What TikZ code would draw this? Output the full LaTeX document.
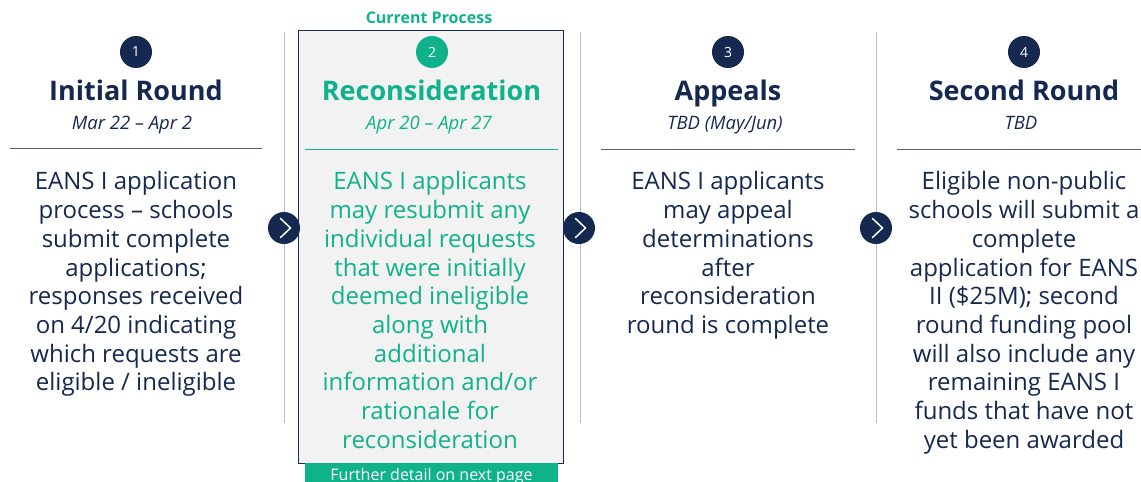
\documentclass[tikz,border=0pt]{standalone}
\usepackage{fontspec}
\setmainfont{Open Sans}
\usetikzlibrary{calc}
\definecolor{navy}{RGB}{20,40,80}
\definecolor{teal}{RGB}{16,178,140}
\definecolor{boxgray}{RGB}{242,242,242}
\definecolor{sepgray}{RGB}{190,190,190}
\definecolor{rulegray}{RGB}{90,100,120}
\begin{document}
\begin{tikzpicture}[x=1pt,y=-1pt,
  numcirc/.style={circle,fill=#1,minimum size=32pt,inner sep=0pt,text=white,font=\fontsize{14}{14}\selectfont},
  arrowcirc/.style={circle,fill=navy,minimum size=32pt,inner sep=0pt},
  title/.style={font=\fontsize{27}{30}\selectfont\bfseries,text=#1,inner sep=0pt,anchor=base},
  datetxt/.style={font=\fontsize{18.5}{20}\selectfont\itshape,text=#1,inner sep=0pt,anchor=base},
  body/.style={font=\fontsize{24}{28.7}\selectfont,text=#1,align=center,inner sep=0pt,anchor=north},
  sep/.style={draw=sepgray,line width=1pt},
  hrule/.style={draw=#1,line width=1pt}]
\useasboundingbox (0,0) rectangle (1141,482);
% separators
\draw[sep] (284,32) -- (284,423);
\draw[sep] (580,32) -- (580,423);
\draw[sep] (876,32) -- (876,423);
% current box
\node[draw=navy,fill=boxgray,line width=0.8pt,minimum width=265pt,minimum height=433pt,inner sep=0pt,anchor=north west] (box) at (298,30) {};
\node[font=\fontsize{16}{16}\selectfont\bfseries,text=teal,inner sep=0pt,anchor=base] (cur) at (429,23.5) {Current Process};
\node[fill=teal,minimum width=253pt,minimum height=20pt,inner sep=0pt,anchor=north west] (bar) at (305,463) {};
\node[text=white,font=\fontsize{16}{16}\selectfont,inner sep=0pt,anchor=base] (bartxt) at (431.5,480) {Further detail on next page};
% column 1
\node[numcirc=navy] (n1) at (136,52) {1};
\node[title=navy] (t1) at (136,100.5) {Initial Round};
\node[datetxt=navy] (d1) at (132,129.5) {Mar 22 – Apr 2};
\draw[hrule=rulegray] (10,148) -- (262,148);
\node[body=navy] (b1) at (136,171.5) {EANS I application\\process – schools\\submit complete\\applications;\\responses received\\on 4/20 indicating\\which requests are\\eligible / ineligible};
% column 2
\node[numcirc=teal] (n2) at (432,52) {2};
\node[title=teal] (t2) at (431.5,100.5) {Reconsideration};
\node[datetxt=teal] (d2) at (429,129.5) {Apr 20 – Apr 27};
\draw[hrule=teal] (305,149) -- (558,149);
\node[body=teal] (b2) at (430,171.5) {EANS I applicants\\may resubmit any\\individual requests\\that were initially\\deemed ineligible\\along with\\additional\\information and/or\\rationale for\\reconsideration};
% column 3
\node[numcirc=navy] (n3) at (728,52) {3};
\node[title=navy] (t3) at (728,100.5) {Appeals};
\node[datetxt=navy] (d3) at (725,129.5) {TBD (May/Jun)};
\draw[hrule=rulegray] (601,149) -- (855,149);
\node[body=navy] (b3) at (728,171.5) {EANS I applicants\\may appeal\\determinations\\after\\reconsideration\\round is complete};
% column 4
\node[numcirc=navy] (n4) at (1024,52) {4};
\node[title=navy] (t4) at (1024,100.5) {Second Round};
\node[datetxt=navy] (d4) at (1021,129.5) {TBD};
\draw[hrule=rulegray] (897,149) -- (1141,149);
\node[body=navy] (b4) at (1024,171.5) {Eligible non-public\\schools will submit a\\complete\\application for EANS\\II (\$25M); second\\round funding pool\\will also include any\\remaining EANS I\\funds that have not\\yet been awarded};
% arrow circles
\foreach \n/\x in {a1/284,a2/579,a3/876}{
  \node[arrowcirc] (\n) at (\x,228) {};
  \draw[white,line width=1.5pt,line cap=round,line join=round] ($(\n)+(-3.5,-9.5)$) -- ($(\n)+(6.5,0)$) -- ($(\n)+(-3.5,9.5)$);
}
\end{tikzpicture}
\end{document}
